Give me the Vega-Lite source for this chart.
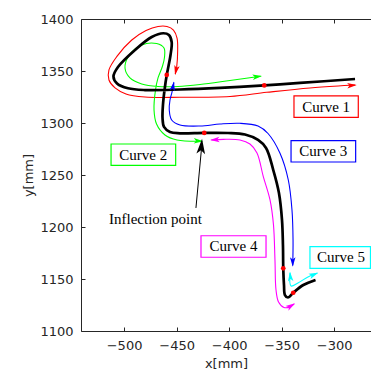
{
  "$schema": "https://vega.github.io/schema/vega-lite/v6.json",
  "width": 290,
  "height": 312,
  "autosize": {"type": "none"},
  "padding": {"left": 81, "top": 19, "right": 0, "bottom": 39},
  "config": {
    "view": {"stroke": null},
    "axis": {
      "domainColor": "#262626", "tickColor": "#262626", "labelColor": "#262626", "titleColor": "#262626",
      "labelFont": "DejaVu Sans", "titleFont": "DejaVu Sans", "labelFontSize": 13, "titleFontSize": 13,
      "titleFontWeight": "normal", "tickSize": -4, "grid": false, "domainWidth": 1, "tickWidth": 1
    }
  },
  "datasets": {
    "paths": [
      {"curve": "main", "i": 1, "x": -280.2, "y": 1342.3},
      {"curve": "main", "i": 2, "x": -332.6, "y": 1338.5},
      {"curve": "main", "i": 3, "x": -366.6, "y": 1336.1},
      {"curve": "main", "i": 4, "x": -408.7, "y": 1333.7},
      {"curve": "main", "i": 5, "x": -446.8, "y": 1332.2},
      {"curve": "main", "i": 6, "x": -480.1, "y": 1331.7},
      {"curve": "main", "i": 7, "x": -496.3, "y": 1333.4},
      {"curve": "main", "i": 8, "x": -506.7, "y": 1338},
      {"curve": "main", "i": 9, "x": -510.1, "y": 1344.7},
      {"curve": "main", "i": 10, "x": -505.8, "y": 1353.8},
      {"curve": "main", "i": 11, "x": -489.6, "y": 1370.2},
      {"curve": "main", "i": 12, "x": -473.7, "y": 1382.7},
      {"curve": "main", "i": 13, "x": -462.7, "y": 1386.3},
      {"curve": "main", "i": 14, "x": -457.3, "y": 1384.6},
      {"curve": "main", "i": 15, "x": -454.7, "y": 1377.9},
      {"curve": "main", "i": 16, "x": -455.8, "y": 1365.4},
      {"curve": "main", "i": 17, "x": -457.7, "y": 1354.8},
      {"curve": "main", "i": 18, "x": -459.4, "y": 1346.2},
      {"curve": "main", "i": 19, "x": -461.5, "y": 1331.7},
      {"curve": "main", "i": 20, "x": -463, "y": 1317.3},
      {"curve": "main", "i": 21, "x": -463.4, "y": 1304.8},
      {"curve": "main", "i": 22, "x": -462, "y": 1296.2},
      {"curve": "main", "i": 23, "x": -456.3, "y": 1291.3},
      {"curve": "main", "i": 24, "x": -446.8, "y": 1290.1},
      {"curve": "main", "i": 25, "x": -423.7, "y": 1290.5},
      {"curve": "main", "i": 26, "x": -401.1, "y": 1290.4},
      {"curve": "main", "i": 27, "x": -384.9, "y": 1288.9},
      {"curve": "main", "i": 28, "x": -372.5, "y": 1283.7},
      {"curve": "main", "i": 29, "x": -364.9, "y": 1276},
      {"curve": "main", "i": 30, "x": -358, "y": 1254.8},
      {"curve": "main", "i": 31, "x": -352.6, "y": 1232.7},
      {"curve": "main", "i": 32, "x": -349.7, "y": 1206.7},
      {"curve": "main", "i": 33, "x": -348.8, "y": 1182.7},
      {"curve": "main", "i": 34, "x": -348.5, "y": 1160.3},
      {"curve": "main", "i": 35, "x": -347.8, "y": 1144.2},
      {"curve": "main", "i": 36, "x": -346.9, "y": 1134.6},
      {"curve": "main", "i": 37, "x": -344, "y": 1132.2},
      {"curve": "main", "i": 38, "x": -339, "y": 1136.8},
      {"curve": "main", "i": 39, "x": -329.4, "y": 1144.2},
      {"curve": "main", "i": 40, "x": -317.8, "y": 1149.1},

      {"curve": "Curve 1", "i": 1, "x": -451.3, "y": 1347},
      {"curve": "Curve 1", "i": 2, "x": -449.9, "y": 1354.1},
      {"curve": "Curve 1", "i": 3, "x": -449, "y": 1370.2},
      {"curve": "Curve 1", "i": 4, "x": -449.6, "y": 1381.7},
      {"curve": "Curve 1", "i": 5, "x": -453, "y": 1389.4},
      {"curve": "Curve 1", "i": 6, "x": -459.2, "y": 1392.8},
      {"curve": "Curve 1", "i": 7, "x": -467.7, "y": 1392.8},
      {"curve": "Curve 1", "i": 8, "x": -479.1, "y": 1388.9},
      {"curve": "Curve 1", "i": 9, "x": -492.7, "y": 1379.8},
      {"curve": "Curve 1", "i": 10, "x": -507, "y": 1363.8},
      {"curve": "Curve 1", "i": 11, "x": -514.4, "y": 1351},
      {"curve": "Curve 1", "i": 12, "x": -514.4, "y": 1341.3},
      {"curve": "Curve 1", "i": 13, "x": -508.6, "y": 1333.7},
      {"curve": "Curve 1", "i": 14, "x": -498.2, "y": 1327.9},
      {"curve": "Curve 1", "i": 15, "x": -480.1, "y": 1325},
      {"curve": "Curve 1", "i": 16, "x": -446.8, "y": 1324.7},
      {"curve": "Curve 1", "i": 17, "x": -399.2, "y": 1325.5},
      {"curve": "Curve 1", "i": 18, "x": -364.3, "y": 1329.5},
      {"curve": "Curve 1", "i": 19, "x": -323.1, "y": 1333.7},
      {"curve": "Curve 1", "i": 20, "x": -280, "y": 1336.5},

      {"curve": "Curve 2", "i": 1, "x": -370, "y": 1345},
      {"curve": "Curve 2", "i": 2, "x": -399.2, "y": 1340.9},
      {"curve": "Curve 2", "i": 3, "x": -427.7, "y": 1337},
      {"curve": "Curve 2", "i": 4, "x": -448.7, "y": 1335.1},
      {"curve": "Curve 2", "i": 5, "x": -467.7, "y": 1335.1},
      {"curve": "Curve 2", "i": 6, "x": -483.2, "y": 1337.5},
      {"curve": "Curve 2", "i": 7, "x": -494.4, "y": 1343.3},
      {"curve": "Curve 2", "i": 8, "x": -499.1, "y": 1352.6},
      {"curve": "Curve 2", "i": 9, "x": -496, "y": 1363.8},
      {"curve": "Curve 2", "i": 10, "x": -483.2, "y": 1375},
      {"curve": "Curve 2", "i": 11, "x": -469, "y": 1376.4},
      {"curve": "Curve 2", "i": 12, "x": -462, "y": 1372.1},
      {"curve": "Curve 2", "i": 13, "x": -461.5, "y": 1363.5},
      {"curve": "Curve 2", "i": 14, "x": -463.4, "y": 1354.8},
      {"curve": "Curve 2", "i": 15, "x": -467.7, "y": 1343.3},
      {"curve": "Curve 2", "i": 16, "x": -470.1, "y": 1331.7},
      {"curve": "Curve 2", "i": 17, "x": -471.5, "y": 1312.5},
      {"curve": "Curve 2", "i": 18, "x": -469.1, "y": 1299},
      {"curve": "Curve 2", "i": 19, "x": -461.1, "y": 1288.5},
      {"curve": "Curve 2", "i": 20, "x": -449.6, "y": 1283.7},
      {"curve": "Curve 2", "i": 21, "x": -426, "y": 1282.5},

      {"curve": "Curve 3", "i": 1, "x": -452.6, "y": 1339},
      {"curve": "Curve 3", "i": 2, "x": -454.4, "y": 1329.8},
      {"curve": "Curve 3", "i": 3, "x": -456.3, "y": 1322.1},
      {"curve": "Curve 3", "i": 4, "x": -457, "y": 1312.5},
      {"curve": "Curve 3", "i": 5, "x": -454.7, "y": 1302.9},
      {"curve": "Curve 3", "i": 6, "x": -446.8, "y": 1298.1},
      {"curve": "Curve 3", "i": 7, "x": -427.7, "y": 1297.1},
      {"curve": "Curve 3", "i": 8, "x": -408.7, "y": 1299},
      {"curve": "Curve 3", "i": 9, "x": -389.7, "y": 1299.7},
      {"curve": "Curve 3", "i": 10, "x": -372.5, "y": 1297.1},
      {"curve": "Curve 3", "i": 11, "x": -363, "y": 1289.9},
      {"curve": "Curve 3", "i": 12, "x": -351.6, "y": 1270.9},
      {"curve": "Curve 3", "i": 13, "x": -343.7, "y": 1245.2},
      {"curve": "Curve 3", "i": 14, "x": -340.2, "y": 1216.4},
      {"curve": "Curve 3", "i": 15, "x": -339.2, "y": 1187.5},
      {"curve": "Curve 3", "i": 16, "x": -339.5, "y": 1163},

      {"curve": "Curve 4", "i": 1, "x": -417, "y": 1283.7},
      {"curve": "Curve 4", "i": 2, "x": -405.6, "y": 1284.3},
      {"curve": "Curve 4", "i": 3, "x": -389.7, "y": 1283.7},
      {"curve": "Curve 4", "i": 4, "x": -380.2, "y": 1279.8},
      {"curve": "Curve 4", "i": 5, "x": -373.5, "y": 1271.2},
      {"curve": "Curve 4", "i": 6, "x": -367.5, "y": 1248.4},
      {"curve": "Curve 4", "i": 7, "x": -361.1, "y": 1226},
      {"curve": "Curve 4", "i": 8, "x": -357.8, "y": 1201.9},
      {"curve": "Curve 4", "i": 9, "x": -356.4, "y": 1168.3},
      {"curve": "Curve 4", "i": 10, "x": -355.4, "y": 1139.4},
      {"curve": "Curve 4", "i": 11, "x": -353, "y": 1127.9},
      {"curve": "Curve 4", "i": 12, "x": -347.8, "y": 1122.6},
      {"curve": "Curve 4", "i": 13, "x": -342.1, "y": 1123.1},
      {"curve": "Curve 4", "i": 14, "x": -338, "y": 1126},

      {"curve": "Curve 5", "i": 1, "x": -342.1, "y": 1156},
      {"curve": "Curve 5", "i": 2, "x": -341.1, "y": 1143.3},
      {"curve": "Curve 5", "i": 3, "x": -334.5, "y": 1146.2},
      {"curve": "Curve 5", "i": 4, "x": -325, "y": 1151.9},
      {"curve": "Curve 5", "i": 5, "x": -316, "y": 1155.7}
    ],
    "arrows": [
      {"curve": "Curve 1", "x": -278.6, "y": 1336.5, "dir": 86},
      {"curve": "Curve 1", "x": -451.5, "y": 1346.2, "dir": 192},
      {"curve": "Curve 2", "x": -368.7, "y": 1345.2, "dir": 82},
      {"curve": "Curve 2", "x": -424.6, "y": 1282.5, "dir": 92},
      {"curve": "Curve 3", "x": -452.5, "y": 1339.9, "dir": 11},
      {"curve": "Curve 3", "x": -339.5, "y": 1161.8, "dir": 180},
      {"curve": "Curve 4", "x": -418.2, "y": 1283.7, "dir": 267},
      {"curve": "Curve 4", "x": -337.3, "y": 1126.6, "dir": 58},
      {"curve": "Curve 5", "x": -342.1, "y": 1157, "dir": 356},
      {"curve": "Curve 5", "x": -315.2, "y": 1156.1, "dir": 67}
    ],
    "dots": [
      {"x": -366.6, "y": 1336.1},
      {"x": -459.4, "y": 1346.2},
      {"x": -423.7, "y": 1290.5},
      {"x": -348.5, "y": 1160.3},
      {"x": -339, "y": 1136.8}
    ],
    "boxes": [
      {"curve": "Curve 1", "x": -338.3, "x2": -277.1, "y": 1326, "y2": 1305.5, "tx": -307.7, "ty": 1315.8},
      {"curve": "Curve 2", "x": -512.4, "x2": -450.9, "y": 1279.8, "y2": 1259.3, "tx": -481.7, "ty": 1269.6},
      {"curve": "Curve 3", "x": -341.1, "x2": -279.6, "y": 1283, "y2": 1262.5, "tx": -310.4, "ty": 1272.8},
      {"curve": "Curve 4", "x": -426.8, "x2": -364.9, "y": 1191.6, "y2": 1170.9, "tx": -395.9, "ty": 1181.3},
      {"curve": "Curve 5", "x": -323.1, "x2": -265.5, "y": 1181.1, "y2": 1160.3, "tx": -293.6, "ty": 1170.7}
    ],
    "annotLine": [
      {"i": 1, "x": -431.6, "y": 1218.3},
      {"i": 2, "x": -425.9, "y": 1280}
    ],
    "annotHead": [
      {"x": -425.8, "y": 1284.8, "dir": 5}
    ],
    "annotText": [
      {"x": -470.1, "y": 1207.7, "label": "Inflection point"}
    ]
  },
  "resolve": {"axis": {"x": "independent"}},
  "layer": [
    {
      "data": {"name": "paths"},
      "transform": [{"filter": "datum.curve !== 'main'"}],
      "mark": {"type": "line", "strokeWidth": 1.1, "interpolate": "catmull-rom"},
      "encoding": {
        "x": {"field": "x", "type": "quantitative", "scale": {"domain": [-541, -265], "nice": false, "zero": false},
              "axis": {"orient": "bottom", "values": [-500, -450, -400, -350, -300], "labelPadding": 12, "title": "x[mm]", "titlePadding": 5}},
        "y": {"field": "y", "type": "quantitative", "scale": {"domain": [1100, 1400], "nice": false, "zero": false},
              "axis": {"values": [1100, 1150, 1200, 1250, 1300, 1350, 1400], "format": "d", "labelPadding": 12, "title": "y[mm]", "titlePadding": 4}},
        "color": {"field": "curve", "type": "nominal", "legend": null,
                  "scale": {"domain": ["Curve 1", "Curve 2", "Curve 3", "Curve 4", "Curve 5"], "range": ["#ff0000", "#00ff00", "#0000ff", "#ff00ff", "#00ffff"]}},
        "order": {"field": "i", "type": "quantitative"}
      }
    },
    {
      "data": {"name": "paths"},
      "transform": [{"filter": "datum.curve === 'main'"}],
      "mark": {"type": "line", "strokeWidth": 2.7, "color": "black", "interpolate": "catmull-rom"},
      "encoding": {
        "x": {"field": "x", "type": "quantitative", "axis": {"orient": "top", "values": [-500, -450, -400, -350, -300], "labels": false, "title": null}},
        "y": {"field": "y", "type": "quantitative"},
        "order": {"field": "i", "type": "quantitative"}
      }
    },
    {
      "data": {"name": "arrows"},
      "mark": {"type": "point", "filled": true, "opacity": 1, "size": 100, "strokeWidth": 0, "shape": "M0,0L0.55,1.9L0,1.45L-0.55,1.9Z"},
      "encoding": {
        "x": {"field": "x", "type": "quantitative", "axis": null},
        "y": {"field": "y", "type": "quantitative"},
        "color": {"field": "curve", "type": "nominal", "legend": null},
        "angle": {"field": "dir", "type": "quantitative", "scale": null}
      }
    },
    {
      "data": {"name": "dots"},
      "mark": {"type": "circle", "color": "#ff0000", "size": 22, "opacity": 1},
      "encoding": {
        "x": {"field": "x", "type": "quantitative", "axis": null},
        "y": {"field": "y", "type": "quantitative"}
      }
    },
    {
      "data": {"name": "boxes"},
      "mark": {"type": "rect", "fill": "white", "strokeWidth": 1.2},
      "encoding": {
        "x": {"field": "x", "type": "quantitative", "axis": null},
        "x2": {"field": "x2"},
        "y": {"field": "y", "type": "quantitative"},
        "y2": {"field": "y2"},
        "stroke": {"field": "curve", "type": "nominal", "legend": null,
                   "scale": {"domain": ["Curve 1", "Curve 2", "Curve 3", "Curve 4", "Curve 5"], "range": ["#ff0000", "#00ff00", "#0000ff", "#ff00ff", "#00ffff"]}}
      }
    },
    {
      "data": {"name": "boxes"},
      "mark": {"type": "text", "font": "Liberation Serif", "fontSize": 15, "color": "black", "align": "center", "baseline": "middle"},
      "encoding": {
        "x": {"field": "tx", "type": "quantitative", "axis": null},
        "y": {"field": "ty", "type": "quantitative"},
        "text": {"field": "curve"}
      }
    },
    {
      "data": {"name": "annotLine"},
      "mark": {"type": "line", "color": "black", "strokeWidth": 1},
      "encoding": {
        "x": {"field": "x", "type": "quantitative", "axis": null},
        "y": {"field": "y", "type": "quantitative"},
        "order": {"field": "i", "type": "quantitative"}
      }
    },
    {
      "data": {"name": "annotHead"},
      "mark": {"type": "point", "filled": true, "opacity": 1, "size": 250, "strokeWidth": 0, "color": "black", "shape": "M0,0L0.55,1.9L0,1.45L-0.55,1.9Z"},
      "encoding": {
        "x": {"field": "x", "type": "quantitative", "axis": null},
        "y": {"field": "y", "type": "quantitative"},
        "angle": {"field": "dir", "type": "quantitative", "scale": null}
      }
    },
    {
      "data": {"name": "annotText"},
      "mark": {"type": "text", "font": "Liberation Serif", "fontSize": 15, "color": "black", "align": "center", "baseline": "middle"},
      "encoding": {
        "x": {"field": "x", "type": "quantitative", "axis": null},
        "y": {"field": "y", "type": "quantitative"},
        "text": {"field": "label"}
      }
    }
  ]
}
